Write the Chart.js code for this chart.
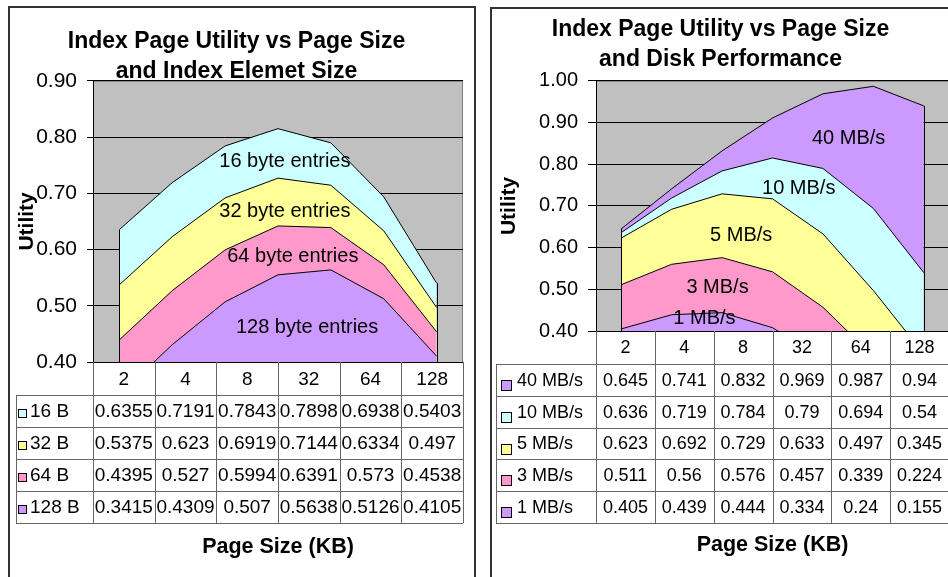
<!DOCTYPE html>
<html>
<head>
<meta charset="utf-8">
<title>Index Page Utility</title>
<script src="https://cdn.jsdelivr.net/npm/chart.js@4.4.0/dist/chart.umd.min.js"></script>
<style>
  body { margin: 0; width: 948px; height: 577px; overflow: hidden; position: relative; background: #fff; }
  .frame { position: absolute; border: 2px solid #333; box-sizing: border-box; }
  canvas { position: absolute; }
</style>
</head>
<body>
<div class="frame" style="left:8px;top:6px;width:468px;height:600px"></div>
<div class="frame" style="left:490px;top:7px;width:505px;height:600px"></div>
<canvas id="leftChart" width="464" height="569" style="left:10px;top:8px"></canvas>
<canvas id="rightChart" width="500" height="568" style="left:492px;top:9px"></canvas>
<script>
// Page sizes - the plot has a 16 KB point that the data table leaves out
const plotPageSizes = ['2', '4', '8', '16', '32', '64', '128'];
const tablePageSizes = ['2', '4', '8', '32', '64', '128'];

// Left chart: index element size (plotted points)
const elemNames = ['16 B', '32 B', '64 B', '128 B'];
const elem16 = [0.6355, 0.7191, 0.7843, 0.815, 0.7898, 0.6938, 0.5403];
const elem32 = [0.5375, 0.623, 0.6919, 0.727, 0.7144, 0.6334, 0.497];
const elem64 = [0.4395, 0.527, 0.5994, 0.642, 0.6391, 0.573, 0.4538];
const elem128 = [0.3415, 0.4309, 0.507, 0.555, 0.5638, 0.5126, 0.4105];
// values printed in the data table
const elem16Table = [0.6355, 0.7191, 0.7843, 0.7898, 0.6938, 0.5403];
const elem32Table = [0.5375, 0.623, 0.6919, 0.7144, 0.6334, 0.497];
const elem64Table = [0.4395, 0.527, 0.5994, 0.6391, 0.573, 0.4538];
const elem128Table = [0.3415, 0.4309, 0.507, 0.5638, 0.5126, 0.4105];
const elemAreaLabels = ['16 byte entries', '32 byte entries', '64 byte entries', '128 byte entries'];

// Right chart: disk performance (plotted points)
const diskNames = ['40 MB/s', '10 MB/s', '5 MB/s', '3 MB/s', '1 MB/s'];
const disk40 = [0.645, 0.741, 0.832, 0.911, 0.969, 0.987, 0.94];
const disk10 = [0.636, 0.719, 0.784, 0.815, 0.79, 0.694, 0.54];
const disk5 = [0.623, 0.692, 0.729, 0.717, 0.633, 0.497, 0.345];
const disk3 = [0.511, 0.56, 0.576, 0.542, 0.457, 0.339, 0.224];
const disk1 = [0.405, 0.439, 0.444, 0.408, 0.334, 0.24, 0.155];
const disk40Table = [0.645, 0.741, 0.832, 0.969, 0.987, 0.94];
const disk10Table = [0.636, 0.719, 0.784, 0.79, 0.694, 0.54];
const disk5Table = [0.623, 0.692, 0.729, 0.633, 0.497, 0.345];
const disk3Table = [0.511, 0.56, 0.576, 0.457, 0.339, 0.224];
const disk1Table = [0.405, 0.439, 0.444, 0.334, 0.24, 0.155];
const diskAreaLabels = ['40 MB/s', '10 MB/s', '5 MB/s', '3 MB/s', '1 MB/s'];

// where the in-plot labels sit: [category index, utility]
const elemLabelPos = [[3.13, 0.756], [3.13, 0.667], [3.28, 0.587], [3.55, 0.462]];
const diskLabelPos = [[4.51, 0.863], [3.52, 0.743], [2.38, 0.628], [1.91, 0.505], [1.65, 0.431]];

const FONT = "'Liberation Sans', Arial, sans-serif";
const CYAN = '#ccffff', YELLOW = '#ffff99', PINK = '#ff99cc', PURPLE = '#cc99ff';

// Excel look: gray plot, closed area edges, in-plot labels, data table under the plot
const excelPlot = {
  id: 'excelPlot',
  beforeDraw(chart) {
    const {ctx, chartArea: a} = chart;
    ctx.save();
    ctx.fillStyle = '#c0c0c0';
    ctx.fillRect(a.left, a.top, a.right - a.left, a.bottom - a.top);
    ctx.strokeStyle = '#808080';
    ctx.lineWidth = 1;
    ctx.strokeRect(a.left + 0.5, a.top + 0.5, a.right - a.left - 1, a.bottom - a.top);
    ctx.restore();
  },
  afterDatasetDraw(chart, args) {
    const {ctx, chartArea: a} = chart;
    const pts = args.meta.data;
    ctx.save();
    ctx.beginPath();
    ctx.rect(a.left, a.top, a.right - a.left, a.bottom - a.top);
    ctx.clip();
    ctx.strokeStyle = '#000';
    ctx.lineWidth = 1;
    ctx.beginPath();
    [pts[0], pts[pts.length - 1]].forEach(p => {
      const x = Math.round(p.x) + 0.5;
      ctx.moveTo(x, p.y);
      ctx.lineTo(x, a.bottom);
    });
    ctx.stroke();
    ctx.restore();
  },
  afterDatasetsDraw(chart, args, o) {
    const {ctx, scales} = chart;
    ctx.save();
    ctx.font = `20px ${FONT}`;
    ctx.fillStyle = '#000';
    ctx.textAlign = 'center';
    ctx.textBaseline = 'middle';
    o.labels.forEach((t, i) => {
      ctx.fillText(t, scales.x.getPixelForValue(o.labelPos[i][0]), scales.y.getPixelForValue(o.labelPos[i][1]));
    });
    ctx.restore();
  },
  afterDraw(chart, args, o) {
    const {ctx, chartArea: a} = chart;
    const colW = (a.right - a.left) / tablePageSizes.length;
    const top = a.bottom;
    const rowsTop = top + o.headH;
    const end = rowsTop + o.rowH * o.rows.length;
    const px = v => Math.round(v) + 0.5;
    ctx.save();
    ctx.strokeStyle = '#666';
    ctx.lineWidth = 1;
    ctx.beginPath();
    for (let j = 0; j <= tablePageSizes.length; j++) {
      const x = px(a.left + j * colW);
      ctx.moveTo(x, top);
      ctx.lineTo(x, end);
    }
    ctx.moveTo(px(o.legLeft), rowsTop);
    ctx.lineTo(px(o.legLeft), end);
    for (let r = 0; r <= o.rows.length; r++) {
      const y = px(rowsTop + r * o.rowH);
      ctx.moveTo(o.legLeft, y);
      ctx.lineTo(a.right, y);
    }
    ctx.stroke();

    ctx.fillStyle = '#000';
    ctx.textBaseline = 'middle';
    ctx.textAlign = 'center';
    ctx.font = `${o.fontSize}px ${FONT}`;
    tablePageSizes.forEach((c, j) => ctx.fillText(c, a.left + (j + 0.5) * colW, top + o.headH / 2 + 1));
    o.rows.forEach((row, r) => {
      const cy = rowsTop + (r + 0.5) * o.rowH + 1;
      ctx.textAlign = 'center';
      ctx.fillStyle = '#000';
      row.values.forEach((v, j) => ctx.fillText(String(v), a.left + (j + 0.5) * colW, cy));
      const sx = Math.round(o.legLeft + o.swatchX) + 0.5;
      const sy = Math.round(cy - o.swatch / 2 + o.swatchDy) + 0.5;
      ctx.fillStyle = row.color;
      ctx.fillRect(sx, sy, o.swatch, o.swatch);
      ctx.strokeStyle = '#000';
      ctx.strokeRect(sx, sy, o.swatch, o.swatch);
      ctx.fillStyle = '#000';
      ctx.textAlign = 'left';
      ctx.fillText(row.name, o.legLeft + o.textX, cy);
    });

    ctx.textAlign = 'center';
    ctx.font = `bold 21.5px ${FONT}`;
    ctx.fillText('Page Size (KB)', (a.left + a.right) / 2, end + o.titleGap);
    ctx.restore();
  }
};

function excelAreaChart(id, cfg) {
  // series[0] is the back area; Chart.js paints dataset 0 last, so reverse
  const datasets = cfg.series.map(s => ({
    label: s.name,
    data: s.plot,
    backgroundColor: s.color,
    borderColor: '#000',
    borderWidth: 1,
    fill: 'start',
    pointRadius: 0,
    tension: 0
  })).reverse();

  return new Chart(document.getElementById(id), {
    type: 'line',
    data: { labels: plotPageSizes, datasets },
    options: {
      responsive: false,
      animation: false,
      events: [],
      layout: { padding: cfg.padding },
      plugins: {
        legend: { display: false },
        tooltip: { enabled: false },
        title: {
          display: true,
          text: cfg.title,
          color: '#000',
          font: { family: FONT, size: 23, weight: 'bold', lineHeight: 1.28 },
          padding: cfg.titlePad
        },
        excelPlot: {
          labels: cfg.labels,
          labelPos: cfg.labelPos,
          rows: cfg.series.map(s => ({ name: s.name, color: s.color, values: s.table })),
          ...cfg.table
        }
      },
      scales: {
        x: { display: false, offset: true },
        y: {
          min: cfg.min,
          max: cfg.max,
          afterFit: s => { s.width = cfg.axisWidth; },
          ticks: {
            stepSize: 0.1,
            color: '#000',
            padding: 10,
            font: { family: FONT, size: cfg.tickSize },
            callback: v => v.toFixed(2)
          },
          grid: { color: '#000', tickLength: cfg.tickLen },
          border: { color: '#000' },
          title: {
            display: true,
            text: 'Utility',
            color: '#000',
            font: { family: FONT, size: 21, weight: 'bold' },
            padding: { top: 5, bottom: 0 }
          }
        }
      }
    },
    plugins: [excelPlot]
  });
}

excelAreaChart('leftChart', {
  title: ['Index Page Utility vs Page Size', 'and Index Elemet Size'],
  titlePad: { top: 19, bottom: -5 },
  padding: { top: 0, left: 0, right: 11, bottom: 215 },
  axisWidth: 83,
  tickSize: 21,
  tickLen: 6,
  min: 0.4,
  max: 0.9,
  series: [
    { name: elemNames[0], color: CYAN, plot: elem16, table: elem16Table },
    { name: elemNames[1], color: YELLOW, plot: elem32, table: elem32Table },
    { name: elemNames[2], color: PINK, plot: elem64, table: elem64Table },
    { name: elemNames[3], color: PURPLE, plot: elem128, table: elem128Table }
  ],
  labels: elemAreaLabels,
  labelPos: elemLabelPos,
  table: { headH: 33, rowH: 32, legLeft: 6, swatch: 8, swatchX: 1.5, swatchDy: 1, textX: 14, fontSize: 19, titleGap: 24 }
});

excelAreaChart('rightChart', {
  title: ['Index Page Utility vs Page Size', 'and Disk Performance'],
  titlePad: { top: 6, bottom: 7 },
  padding: { top: 0, left: 0, right: 43, bottom: 246 },
  axisWidth: 104,
  tickSize: 20,
  tickLen: 8,
  min: 0.4,
  max: 1.0,
  series: [
    { name: diskNames[0], color: PURPLE, plot: disk40, table: disk40Table },
    { name: diskNames[1], color: CYAN, plot: disk10, table: disk10Table },
    { name: diskNames[2], color: YELLOW, plot: disk5, table: disk5Table },
    { name: diskNames[3], color: PINK, plot: disk3, table: disk3Table },
    { name: diskNames[4], color: PURPLE, plot: disk1, table: disk1Table }
  ],
  labels: diskAreaLabels,
  labelPos: diskLabelPos,
  table: { headH: 33, rowH: 31.8, legLeft: 4, swatch: 10, swatchX: 5, swatchDy: 4, textX: 21, fontSize: 18, titleGap: 22 }
});
</script>
</body>
</html>
